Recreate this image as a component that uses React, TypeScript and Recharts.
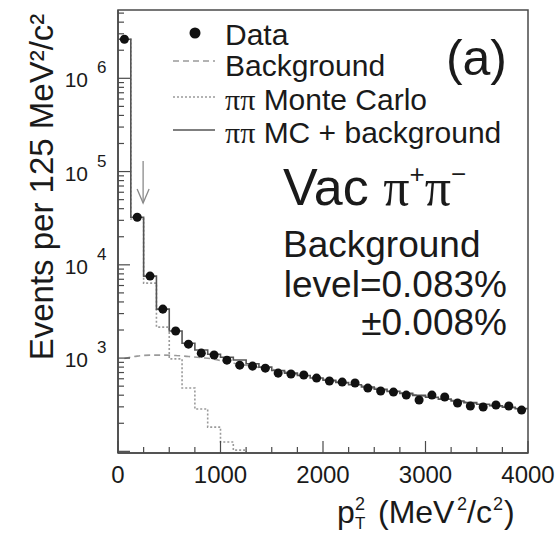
import React from 'react';
import { ComposedChart, Line, Scatter, XAxis, YAxis, ReferenceArea, ReferenceLine } from 'recharts';

// bins of 125 MeV^2/c^2
const binEdges = [0, 125, 250, 375, 500, 625, 750, 875, 1000, 1125, 1250, 1375, 1500, 1625, 1750, 1875, 2000,
  2125, 2250, 2375, 2500, 2625, 2750, 2875, 3000, 3125, 3250, 3375, 3500, 3625, 3750, 3875, 4000];
const binCenters = [62.5, 187.5, 312.5, 437.5, 562.5, 687.5, 812.5, 937.5, 1062.5, 1187.5, 1312.5, 1437.5,
  1562.5, 1687.5, 1812.5, 1937.5, 2062.5, 2187.5, 2312.5, 2437.5, 2562.5, 2687.5, 2812.5, 2937.5, 3062.5,
  3187.5, 3312.5, 3437.5, 3562.5, 3687.5, 3812.5, 3937.5];

const dataCounts = [2620000, 32400, 7570, 3350, 1950, 1410, 1130, 1080, 950, 840, 820, 780, 690, 675, 658, 610,
  567, 553, 540, 477, 443, 432, 401, 355, 401, 382, 330, 306, 299, 314, 306, 277];
const backgroundCounts = [990, 1050, 1075, 1075, 1065, 1040, 1010, 975, 905, 860, 815, 775, 735, 690, 650, 612,
  578, 547, 518, 490, 464, 440, 418, 398, 380, 363, 347, 333, 320, 308, 297, 287];
const mcCounts: (number | null)[] = [2620000, 31000, 6360, 2150, 980, 477, 284, 182, 126, 103, 70, null, null,
  null, null, null, null, null, null, null, null, null, null, null, null, null, null, null, null, null, null, null];
const mcPlusBgCounts = [2620000, 32400, 7570, 3350, 1950, 1440, 1220, 1100, 1020, 955, 870, 800, 735, 690, 650,
  612, 578, 547, 518, 490, 464, 440, 418, 398, 380, 363, 347, 333, 320, 308, 297, 287];

const xTicks = [0, 250, 500, 750, 1000, 1250, 1500, 1750, 2000, 2250, 2500, 2750, 3000, 3250, 3500, 3750, 4000];
const xLabelTicks = [0, 1000, 2000, 3000, 4000];
const yDecades = [100, 1000, 10000, 100000, 1000000];
const yLabelDecades = [1000, 10000, 100000, 1000000];
const yMinorMults = [2, 3, 4, 5, 6, 7, 8, 9];

const Y_MIN = 96;
const Y_MAX = 5.4e6;
const cutArrowTop = 1.3e5;
const cutArrowBottom = 4.6e4;
const cutValue = 245;

const W = 557;
const H = 533;
const SANS = '"Liberation Sans", Arial, Helvetica, sans-serif';
const SERIF = '"Liberation Serif", "Times New Roman", serif';
const INK = '#1a1a1a';
const AXIS = '#4a4a4a';

const yTicks: number[] = [];
yDecades.forEach((d) => {
  yTicks.push(d);
  yMinorMults.forEach((m) => {
    if (d * m <= Y_MAX) yTicks.push(d * m);
  });
});

const stepRows = (vals: (number | null)[]) => {
  const rows = vals.map((v, i) => ({ x: binEdges[i], y: v }));
  rows.push({ x: binEdges[binEdges.length - 1], y: vals[vals.length - 1] });
  return rows;
};

const dataRows = binCenters.map((x, i) => ({ x, y: dataCounts[i] }));
const bgRows = binCenters.map((x, i) => ({ x, y: backgroundCounts[i] }));
const mcRows = stepRows(mcCounts);
const totalRows = stepRows(mcPlusBgCounts);

const YTick = (props: any) => {
  const { x, y, payload } = props;
  const v = payload.value as number;
  const major = yDecades.includes(v);
  const len = major ? 12 : 6;
  const exp = Math.round(Math.log10(v));
  return (
    <g>
      <line x1={x} x2={x + len} y1={y} y2={y} stroke={AXIS} strokeWidth={1.2} />
      {yLabelDecades.includes(v) && (
        <text fontFamily={SANS} fill={INK}>
          <tspan x={x - 30} y={y + 9} fontSize={21} textAnchor="end">10</tspan>
          <tspan x={x - 21} y={y - 5} fontSize={17}>{exp}</tspan>
        </text>
      )}
    </g>
  );
};

const XTick = (props: any) => {
  const { x, y, payload } = props;
  const v = payload.value as number;
  const major = v % 1000 === 0;
  const len = major ? 12 : 6;
  return (
    <g>
      <line x1={x} x2={x} y1={y} y2={y - len} stroke={AXIS} strokeWidth={1.2} />
      {xLabelTicks.includes(v) && (
        <text x={x} y={y + 30} fontSize={24} fontFamily={SANS} fill={INK} textAnchor="middle">{v}</text>
      )}
    </g>
  );
};

const CutArrow = (p: any) => {
  const { x1, y1, x2, y2 } = p;
  return (
    <g stroke="#8a8a8a" strokeWidth={1.3} fill="none">
      <line x1={x1} y1={y1} x2={x2} y2={y2} />
      <polyline points={`${x2 - 6},${y2 - 14} ${x2},${y2} ${x2 + 6},${y2 - 14}`} />
    </g>
  );
};

export default function App() {
  return (
    <div style={{ position: 'absolute', left: 0, top: 0, width: W, height: H, background: '#fff' }}>
      <ComposedChart width={W} height={H} margin={{ top: 10, right: 29, bottom: 50, left: 58 }}>
        <XAxis
          dataKey="x"
          type="number"
          domain={[0, 4000]}
          allowDataOverflow
          ticks={xTicks}
          interval={0}
          tick={<XTick />}
          tickLine={false}
          tickSize={0}
          tickMargin={0}
          height={30}
          axisLine={{ stroke: AXIS, strokeWidth: 1.5 }}
        />
        <YAxis
          dataKey="y"
          type="number"
          scale="log"
          domain={[Y_MIN, Y_MAX]}
          allowDataOverflow
          ticks={yTicks}
          interval={0}
          tick={<YTick />}
          tickLine={false}
          tickSize={0}
          tickMargin={0}
          width={60}
          axisLine={{ stroke: AXIS, strokeWidth: 1.5 }}
        />
        <ReferenceArea x1={0} x2={4000} y1={Y_MIN} y2={Y_MAX} fill="none" stroke={AXIS} strokeWidth={1.5} ifOverflow="visible" />
        <Line data={bgRows} dataKey="y" type="monotone" stroke="#9a9a9a" strokeWidth={1.6}
          strokeDasharray="6 4" dot={false} isAnimationActive={false} />
        <Line data={mcRows} dataKey="y" type="stepAfter" stroke="#9a9a9a" strokeWidth={1.6}
          strokeDasharray="2 2" dot={false} isAnimationActive={false} />
        <Line data={totalRows} dataKey="y" type="stepAfter" stroke="#555" strokeWidth={1.6}
          dot={false} isAnimationActive={false} />
        <Scatter data={dataRows} dataKey="y" fill="#111" isAnimationActive={false} />
        <ReferenceLine
          segment={[{ x: cutValue, y: cutArrowTop }, { x: cutValue, y: cutArrowBottom }]}
          shape={<CutArrow />}
        />
      </ComposedChart>
      <svg width={W} height={H} style={{ position: 'absolute', left: 0, top: 0, pointerEvents: 'none' }}
        fontFamily={SANS} fill={INK}>
        {/* legend */}
        <circle cx={195} cy={33} r={5.5} fill="#111" />
        <line x1={173} x2={215} y1={61} y2={61} stroke="#9a9a9a" strokeWidth={1.6} strokeDasharray="6 4" />
        <line x1={173} x2={215} y1={97} y2={97} stroke="#9a9a9a" strokeWidth={1.6} strokeDasharray="2 2" />
        <line x1={173} x2={215} y1={130} y2={130} stroke="#555" strokeWidth={1.6} />
        <text x={225} y={45} fontSize={30}>Data</text>
        <text x={225} y={76} fontSize={30}>Background</text>
        <text x={225} y={110} fontSize={30}><tspan fontFamily={SERIF}>ππ</tspan> Monte Carlo</text>
        <text x={225} y={143} fontSize={30}><tspan fontFamily={SERIF}>ππ</tspan> MC + background</text>

        <text x={507} y={75} fontSize={50} textAnchor="end">(a)</text>

        <text x={283} y={205} fontSize={52}>
          Vac <tspan fontFamily={SERIF}>π</tspan>
          <tspan fontSize={26} dy={-22}>+</tspan>
          <tspan fontFamily={SERIF} dy={22}>π</tspan>
          <tspan fontSize={26} dy={-22}>−</tspan>
        </text>

        <text x={283} y={257} fontSize={37}>Background</text>
        <text x={507} y={297} fontSize={37} textAnchor="end">level=0.083%</text>
        <text x={507} y={335} fontSize={37} textAnchor="end">±0.008%</text>

        {/* axis titles */}
        <text transform="translate(53,187) rotate(-90)" fontSize={33} textAnchor="middle">
          Events per 125 MeV²/c²
        </text>
        <text y={523} fontSize={32}>
          <tspan x={337}>p</tspan>
          <tspan x={355} y={510} fontSize={18}>2</tspan>
          <tspan x={355} y={529} fontSize={17}>T</tspan>
          <tspan x={378} y={523}>(MeV</tspan>
          <tspan x={457} y={510} fontSize={18}>2</tspan>
          <tspan x={467} y={523}>/c</tspan>
          <tspan x={493} y={510} fontSize={18}>2</tspan>
          <tspan x={504} y={523}>)</tspan>
        </text>
      </svg>
    </div>
  );
}
